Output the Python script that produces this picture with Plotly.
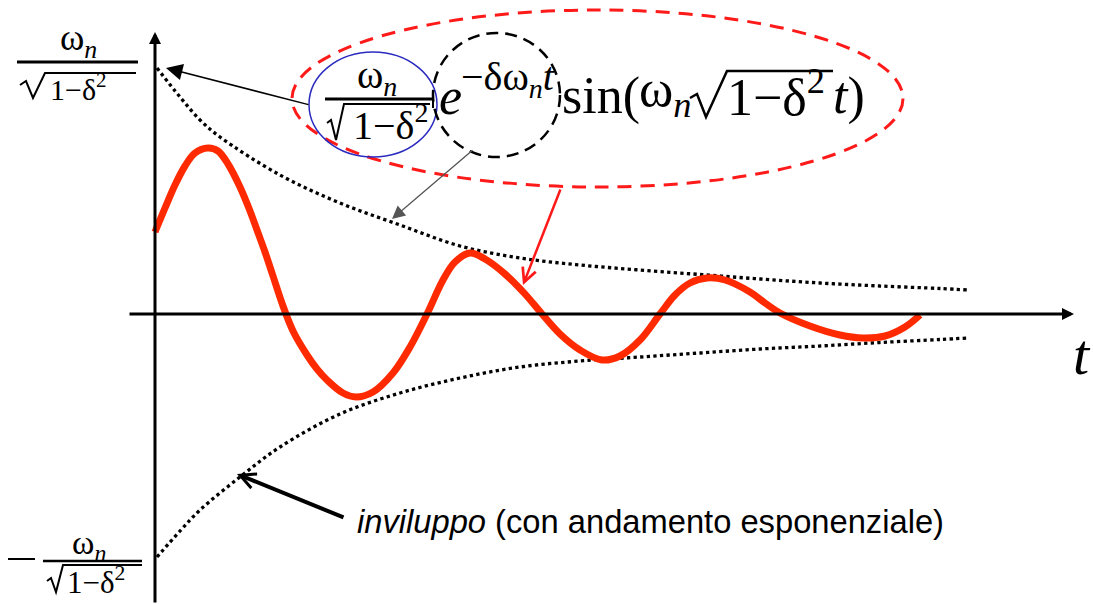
import plotly.graph_objects as go

W, H = 1093, 604

# --- damped oscillation (time units, amplitude units) ---
t_resp = [0.00, 0.10, 0.20, 0.30, 0.40, 0.53, 0.63, 0.73, 0.85, 0.95, 1.02, 1.10,
          1.18, 1.28, 1.38, 1.52, 1.62, 1.72, 1.88, 2.01, 2.18, 2.38, 2.55, 2.72,
          2.88, 3.00, 3.15, 3.30, 3.50, 3.70, 3.87, 4.05, 4.25, 4.47, 4.65, 4.85,
          5.05, 5.20, 5.35, 5.52, 5.70, 5.95, 6.10, 6.25, 6.55, 6.85, 7.08, 7.30,
          7.50, 7.65]
y_resp = [0.82, 1.06, 1.29, 1.48, 1.61, 1.66, 1.63, 1.50, 1.27, 1.03, 0.84, 0.62,
          0.38, 0.08, -0.17, -0.41, -0.55, -0.66, -0.79, -0.83, -0.78, -0.59, -0.33, 0.00,
          0.34, 0.52, 0.61, 0.55, 0.40, 0.20, 0.00, -0.20, -0.36, -0.46, -0.42, -0.26,
          0.00, 0.19, 0.31, 0.36, 0.34, 0.22, 0.11, 0.01, -0.12, -0.21, -0.24, -0.22,
          -0.13, -0.01]

# --- exponential envelope ---
t_env_up = [0.02, 0.25, 0.45, 0.65, 1.25, 1.85, 2.45, 3.05, 3.65, 4.25, 4.85, 5.45,
            6.05, 6.65, 7.25, 7.85, 8.13]
y_env_up = [2.46, 2.17, 1.94, 1.77, 1.39, 1.11, 0.89, 0.68, 0.56, 0.49, 0.44, 0.395,
            0.35, 0.31, 0.28, 0.255, 0.24]
t_env_lo = [0.02, 0.25, 0.45, 0.85, 1.25, 1.85, 2.45, 3.05, 3.65, 4.25, 4.85, 5.45,
            6.05, 6.65, 7.25, 7.85, 8.13]
y_env_lo = [-2.43, -2.17, -1.96, -1.63, -1.33, -1.00, -0.79, -0.64, -0.53, -0.47, -0.43,
            -0.39, -0.35, -0.32, -0.285, -0.255, -0.24]

# canvas: origin of the t/y axes at pixel (155, 314), 100 px per unit
X0, Y0, S = 155, 314, 100
x_range = [-X0 / S, (W - X0) / S]
y_range = [-(H - Y0) / S, Y0 / S]

SERIF = "Liberation Serif"
SANS = "Liberation Sans"


def P(x, y):
    """pixel position on the canvas -> paper coordinates"""
    return x / W, 1 - y / H


fig = go.Figure()

for tt, yy in ((t_env_up, y_env_up), (t_env_lo, y_env_lo)):
    fig.add_trace(go.Scatter(x=tt, y=yy, mode="lines",
                             line=dict(color="black", width=3.3, dash="dot", shape="spline"),
                             hoverinfo="skip"))
fig.add_trace(go.Scatter(x=t_resp, y=y_resp, mode="lines",
                         line=dict(color="#ff2a00", width=7, shape="spline", smoothing=1.0),
                         hoverinfo="skip"))

shapes = []
annotations = []


def seg(points, width=2, color="black", dash=None):
    d = ""
    for i, (x, y) in enumerate(points):
        px_, py_ = P(x, y)
        d += ("M" if i == 0 else "L") + f"{px_:.5f},{py_:.5f} "
    line = dict(color=color, width=width)
    if dash:
        line["dash"] = dash
    shapes.append(dict(type="path", xref="paper", yref="paper", path=d.strip(),
                       line=line, layer="above"))


def ellipse(x0, y0, x1, y1, color, width, dash=None):
    a, b = P(x0, y0)
    c, d = P(x1, y1)
    line = dict(color=color, width=width)
    if dash:
        line["dash"] = dash
    shapes.append(dict(type="circle", xref="paper", yref="paper",
                       x0=a, y0=d, x1=c, y1=b, line=line, layer="above"))


def text(s, x, y, size, family=SERIF, xanchor="left", color="black"):
    px_, py_ = P(x, y)
    annotations.append(dict(text=s, x=px_, y=py_, xref="paper", yref="paper",
                            xanchor=xanchor, yanchor="middle", showarrow=False,
                            font=dict(family=family, size=size, color=color)))


def arrow(tip, tail, width, color, head, size):
    px_, py_ = P(*tip)
    annotations.append(dict(text="", x=px_, y=py_, xref="paper", yref="paper",
                            ax=tail[0] - tip[0], ay=tail[1] - tip[1],
                            axref="pixel", ayref="pixel", showarrow=True,
                            arrowhead=head, arrowsize=size, arrowwidth=width,
                            arrowcolor=color, standoff=0, startstandoff=0))


# axes with arrow heads
arrow((155, 32), (155, 604), 3, "black", 2, 0.8)
arrow((1074, 314), (128, 314), 3, "black", 2, 0.8)
text("<i>t</i>", 1071, 354, 58)

# amplitude labels on the vertical axis
text("ω<sub><i>n</i></sub>", 78, 41, 37, xanchor="center")
seg([(17, 62), (138, 62)], width=3)
seg([(20, 85), (26, 81), (33, 98), (45, 73), (136, 73)], width=2)
text("1−δ<sup>2</sup>", 48, 87, 30)

seg([(8, 559), (35, 559)], width=2)
text("ω<sub><i>n</i></sub>", 89, 545, 34, xanchor="center")
seg([(43, 561), (142, 561)], width=2.5)
seg([(47, 581), (51, 578), (56, 592), (63, 565), (142, 565)], width=2)
text("1−δ<sup>2</sup>", 65, 580, 31)

# formula  ω_n/√(1-δ²) · e^(-δ ω_n t) · sin(ω_n √(1-δ²) t)
text("ω<sub><i>n</i></sub>", 377, 77, 40, xanchor="center")
seg([(325, 99), (432, 99)], width=3)
seg([(433, 90), (433, 108)], width=2)
seg([(327, 123), (331, 120), (336, 140), (344, 104), (430, 104)], width=2)
text("1−δ<sup>2</sup>", 351, 123, 40)

text("<i>e</i>", 437, 96, 52)
text("−δω<sub><i>n</i></sub><i>t</i>", 459, 79, 40)
text("sin(", 560, 96, 52)
text("ω<sub><i>n</i></sub>", 637, 92, 52)
seg([(690, 98), (697, 94), (706, 117), (727, 71), (833, 71)], width=2.5)
text("1−δ<sup>2</sup>", 725, 93, 52)
text("<i>t</i>)", 831, 96, 52)

# highlight ellipses around the factors
ellipse(292, 10, 903, 187, "#ff1a1a", 3, dash="14px,9px")
ellipse(309, 52, 437, 157, "#2b2bc0", 1.5)
ellipse(433, 33, 560, 157, "black", 2.5, dash="12px,7px")

# pointers
arrow((166, 68), (310, 105), 1.5, "black", 2, 2.2)
arrow((392, 219), (474, 149), 1.3, "#555555", 2, 2.0)
arrow((523, 285), (561, 188), 2.5, "#ff1a1a", 5, 1.1)
arrow((237, 474), (345, 518), 4, "black", 5, 0.75)
text("<i>inviluppo</i> (con andamento esponenziale)", 355, 521, 32.7, family=SANS)

fig.update_layout(
    width=W, height=H,
    margin=dict(l=0, r=0, t=0, b=0),
    paper_bgcolor="white", plot_bgcolor="white",
    showlegend=False,
    xaxis=dict(range=x_range, visible=False, fixedrange=True),
    yaxis=dict(range=y_range, visible=False, fixedrange=True),
    shapes=shapes,
    annotations=annotations,
)

fig.write_html("out.html", config={"displayModeBar": False})
